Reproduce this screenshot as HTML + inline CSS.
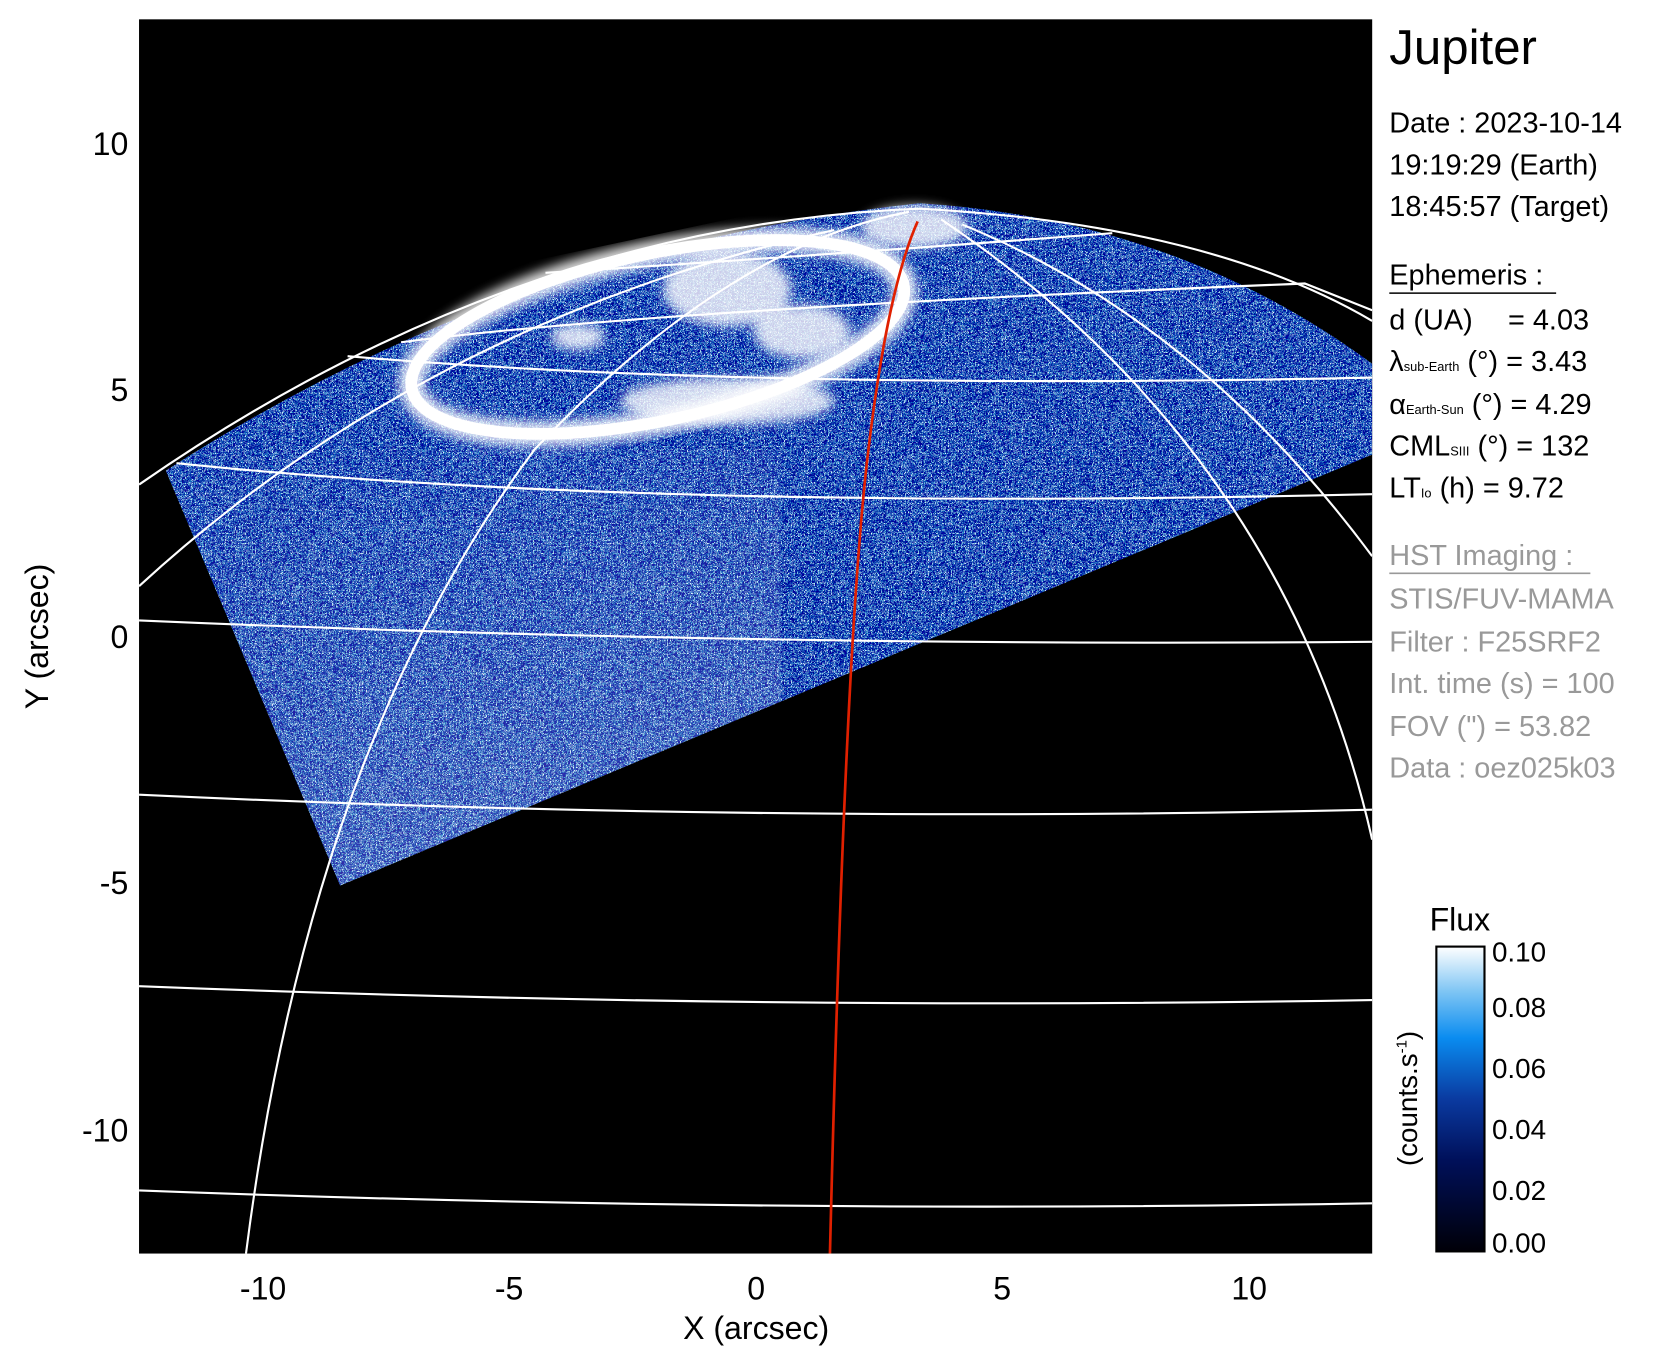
<!DOCTYPE html>
<html><head><meta charset="utf-8"><style>
html,body{margin:0;padding:0;background:#fff}
svg{display:block}
text{font-family:"Liberation Sans",sans-serif}
</style></head><body>
<svg width="1677" height="1367" viewBox="0 0 1568 1278" xmlns="http://www.w3.org/2000/svg">
<defs>
<clipPath id="plot"><rect x="130" y="18" width="1153" height="1154"/></clipPath>
<clipPath id="wedge"><path d="M155,440 Q480,230 860,190 Q1100,205 1283,340 L1283,425 L318,828 Z"/></clipPath>
<filter id="noise" x="0" y="0" width="100%" height="100%">
<feTurbulence type="turbulence" baseFrequency="0.75" numOctaves="1" seed="3"/>
<feColorMatrix type="matrix" values="2.6 0 0 0 -0.55  2.4 0 0 0 -0.25  1.6 0 0 0 0.25  0 0 0 0 1"/>
</filter>
<linearGradient id="fade" x1="0" y1="0" x2="0.3" y2="1">
<stop offset="0" stop-color="#fff" stop-opacity="0"/>
<stop offset="1" stop-color="#fff" stop-opacity="0.2"/>
</linearGradient>
<linearGradient id="cb" x1="0" y1="1" x2="0" y2="0">
<stop offset="0" stop-color="#000008"/>
<stop offset="0.3" stop-color="#00105a"/>
<stop offset="0.5" stop-color="#0a3aa0"/>
<stop offset="0.7" stop-color="#0a8cf0"/>
<stop offset="0.85" stop-color="#7cc4f4"/>
<stop offset="1" stop-color="#ffffff"/>
</linearGradient>
<filter id="blur"><feGaussianBlur stdDeviation="5"/></filter>
</defs>
<rect x="130" y="18" width="1153" height="1154" fill="#000"/>
<g clip-path="url(#plot)">
 <g clip-path="url(#wedge)">
  <rect x="130" y="150" width="1153" height="700" filter="url(#noise)"/>
  <rect x="130" y="420" width="600" height="420" fill="url(#fade)"/>
 </g>
 <!-- aurora -->
 <g fill="none" stroke="#fff">
  <ellipse cx="615" cy="315" rx="235" ry="78" transform="rotate(-12 615 315)" stroke-width="24" filter="url(#blur)" opacity="0.85"/>
  <ellipse cx="615" cy="315" rx="235" ry="78" transform="rotate(-12 615 315)" stroke-width="11"/>
 </g>
 <g fill="#fff" opacity="0.8" filter="url(#blur)">
  <ellipse cx="680" cy="270" rx="60" ry="35"/>
  <ellipse cx="750" cy="310" rx="45" ry="25"/>
  <ellipse cx="680" cy="375" rx="100" ry="22"/>
  <ellipse cx="855" cy="212" rx="50" ry="20"/>
  <ellipse cx="540" cy="315" rx="25" ry="12"/>
 </g>
 <!-- grid -->
 <g fill="none" stroke="#fff" stroke-width="2">
  <path d="M130,453 Q480,210 860,195 Q1130,210 1283,300"/>
  <path d="M130,580 Q707,605 1283,600"/>
  <path d="M130,743 Q707,770 1283,757"/>
  <path d="M130,922 Q707,945 1283,935"/>
  <path d="M130,1113 Q707,1135 1283,1125"/>
  <path d="M165,433 Q600,478 1283,462"/>
  <path d="M325,333 Q700,365 1283,353"/>
  <path d="M375,320 Q600,290 1220,265 L1283,290"/>
  <path d="M510,255 Q750,240 1040,218"/>
  <path d="M230,1172 Q290,700 500,420 Q680,230 850,198"/>
  <path d="M130,548 Q400,300 780,215"/>
  <path d="M880,205 Q1200,420 1283,785"/>
  <path d="M900,210 Q1120,300 1283,520"/>
 </g>
 <path d="M776,1172 Q790,600 812,420 Q830,270 858,207" fill="none" stroke="#e02000" stroke-width="2.5"/>
</g>
<!-- axes labels -->
<g font-size="30" fill="#000" text-anchor="middle">
 <text x="246" y="1215">-10</text><text x="476" y="1215">-5</text><text x="707" y="1215">0</text>
 <text x="937" y="1215">5</text><text x="1168" y="1215">10</text>
 <text x="707" y="1252">X (arcsec)</text>
</g>
<g font-size="30" fill="#000" text-anchor="end">
 <text x="120" y="145">10</text><text x="120" y="375">5</text><text x="120" y="606">0</text>
 <text x="120" y="836">-5</text><text x="120" y="1067">-10</text>
</g>
<text x="45" y="595" font-size="30" text-anchor="middle" transform="rotate(-90 45 595)">Y (arcsec)</text>
<!-- right panel -->
<text x="1299" y="60" font-size="46">Jupiter</text>
<g font-size="27" fill="#000">
 <text x="1299" y="124">Date : 2023-10-14</text>
 <text x="1299" y="163">19:19:29 (Earth)</text>
 <text x="1299" y="202">18:45:57 (Target)</text>
 <text x="1299" y="266">Ephemeris :</text>
 <text x="1299" y="308">d (UA)<tspan x="1410">= 4.03</tspan></text>
 <text x="1299" y="347">λ<tspan font-size="12">sub-Earth</tspan> (°) = 3.43</text>
 <text x="1299" y="387">α<tspan font-size="12">Earth-Sun</tspan> (°) = 4.29</text>
 <text x="1299" y="426">CML<tspan font-size="12">SIII</tspan> (°) = 132</text>
 <text x="1299" y="465">LT<tspan font-size="12">Io</tspan> (h) = 9.72</text>
</g>
<line x1="1299" y1="274" x2="1455" y2="274" stroke="#000" stroke-width="1.5"/>
<g font-size="27" fill="#999">
 <text x="1299" y="528">HST Imaging :</text>
 <text x="1299" y="569">STIS/FUV-MAMA</text>
 <text x="1299" y="609">Filter : F25SRF2</text>
 <text x="1299" y="648">Int. time (s) = 100</text>
 <text x="1299" y="688">FOV (") = 53.82</text>
 <text x="1299" y="727">Data : oez025k03</text>
</g>
<line x1="1299" y1="536" x2="1487" y2="536" stroke="#999" stroke-width="1.5"/>
<!-- colorbar -->
<text x="1365" y="870" font-size="30" text-anchor="middle">Flux</text>
<rect x="1343" y="885" width="45" height="285" fill="url(#cb)" stroke="#000" stroke-width="2"/>
<g font-size="26">
 <text x="1395" y="899">0.10</text><text x="1395" y="951">0.08</text><text x="1395" y="1008">0.06</text>
 <text x="1395" y="1065">0.04</text><text x="1395" y="1122">0.02</text><text x="1395" y="1171">0.00</text>
</g>
<text x="1325" y="1027" font-size="26" text-anchor="middle" transform="rotate(-90 1325 1027)">(counts.s<tspan font-size="14" dy="-10">-1</tspan><tspan dy="10">)</tspan></text>
</svg>
</body></html>
